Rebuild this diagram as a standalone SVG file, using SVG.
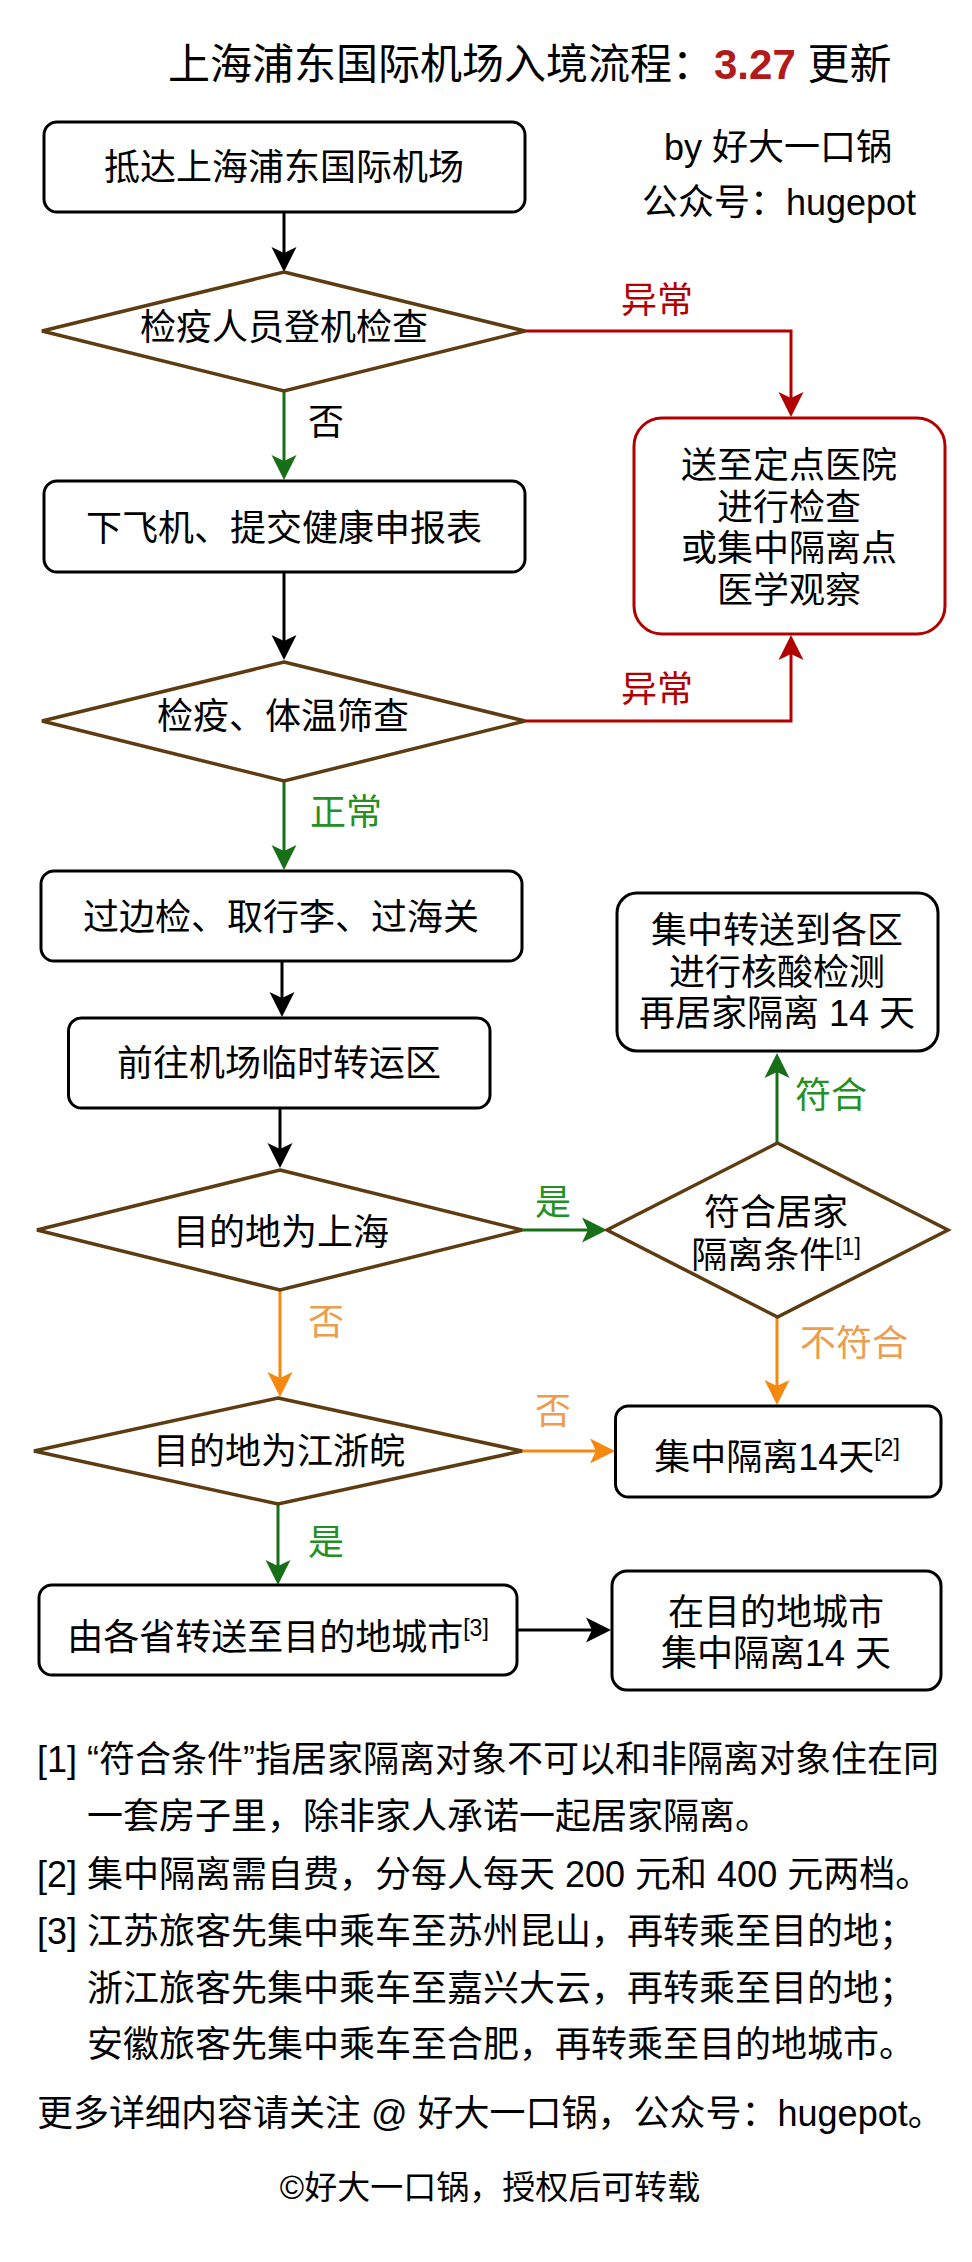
<svg xmlns="http://www.w3.org/2000/svg" width="972" height="2262" viewBox="0 0 972 2262">
<style>
text{font-family:"Liberation Sans","Noto Sans CJK SC",sans-serif;font-size:36px;fill:#000}
.c{text-anchor:middle}
.box{fill:#fff;stroke:#000;stroke-width:3}
.rbox{fill:#fff;stroke:#b20000;stroke-width:3}
.dia{fill:#fff;stroke:#5e3c12;stroke-width:3.5}
.ln{fill:none;stroke-width:3}
.k{stroke:#000}.g{stroke:#176f17}.r{stroke:#b20000}.o{stroke:#f5890f}
.lg{fill:#249024}.lr{fill:#b20000}.lo{fill:#eb9d50}
.sup{font-size:23px}
</style>
<defs>
<marker id="ak" markerUnits="userSpaceOnUse" markerWidth="26" markerHeight="26" refX="15" refY="12.5" orient="auto" overflow="visible"><path d="M0,0 L25,12.5 L0,25 L6,12.5 Z" fill="#000"/></marker>
<marker id="ag" markerUnits="userSpaceOnUse" markerWidth="26" markerHeight="26" refX="15" refY="12.5" orient="auto" overflow="visible"><path d="M0,0 L25,12.5 L0,25 L6,12.5 Z" fill="#176f17"/></marker>
<marker id="ar" markerUnits="userSpaceOnUse" markerWidth="26" markerHeight="26" refX="15" refY="12.5" orient="auto" overflow="visible"><path d="M0,0 L25,12.5 L0,25 L6,12.5 Z" fill="#b20000"/></marker>
<marker id="ao" markerUnits="userSpaceOnUse" markerWidth="26" markerHeight="26" refX="15" refY="12.5" orient="auto" overflow="visible"><path d="M0,0 L25,12.5 L0,25 L6,12.5 Z" fill="#f5890f"/></marker>
</defs>
<rect width="972" height="2262" fill="#fff"/>

<g id="title">
<text x="168" y="79" style="font-size:42px">上海浦东国际机场入境流程：<tspan style="font-weight:bold;fill:#b21a1a">3.27</tspan> 更新</text>
</g>
<g id="byline">
<text class="c" x="778" y="160">by 好大一口锅</text>
<text class="c" x="779" y="215">公众号：hugepot</text>
</g>

<g id="connectors">
<path class="ln k" d="M284,212 V262" marker-end="url(#ak)"/>
<path class="ln r" d="M525,331 H791 V407" marker-end="url(#ar)"/>
<path class="ln g" d="M284,391 V470" marker-end="url(#ag)"/>
<path class="ln k" d="M284,572 V650" marker-end="url(#ak)"/>
<path class="ln r" d="M525,721 H791 V645" marker-end="url(#ar)"/>
<path class="ln g" d="M284,781 V860" marker-end="url(#ag)"/>
<path class="ln k" d="M282,961 V1007" marker-end="url(#ak)"/>
<path class="ln k" d="M280,1108 V1158" marker-end="url(#ak)"/>
<path class="ln g" d="M522,1230 H597" marker-end="url(#ag)"/>
<path class="ln g" d="M777,1143 V1063" marker-end="url(#ag)"/>
<path class="ln o" d="M280,1290 V1387" marker-end="url(#ao)"/>
<path class="ln o" d="M777,1317 V1395" marker-end="url(#ao)"/>
<path class="ln o" d="M522,1451 H605" marker-end="url(#ao)"/>
<path class="ln g" d="M278,1504 V1575" marker-end="url(#ag)"/>
<path class="ln k" d="M517,1630 H601" marker-end="url(#ak)"/>
<text class="c lr" x="657" y="313">异常</text>
<text class="c" x="326" y="435">否</text>
<text class="c lr" x="657" y="702">异常</text>
<text class="c lg" x="346" y="825">正常</text>
<text class="c lg" x="553" y="1215">是</text>
<text class="c lg" x="831" y="1108">符合</text>
<text class="c lo" x="326" y="1335">否</text>
<text class="c lo" x="854" y="1356">不符合</text>
<text class="c lo" x="553" y="1424">否</text>
<text class="c lg" x="326" y="1555">是</text>
</g>

<g id="n1"><rect class="box" x="44" y="122" width="481" height="90" rx="13"/><text class="c" x="284" y="180">抵达上海浦东国际机场</text></g>
<g id="n2"><polygon class="dia" points="284,272 525,331 284,391 42,331"/><text class="c" x="284" y="340">检疫人员登机检查</text></g>
<g id="n3"><rect class="rbox" x="634" y="418" width="311" height="216" rx="28"/>
<text class="c" x="789" y="478">送至定点医院</text><text class="c" x="789" y="520">进行检查</text><text class="c" x="789" y="561">或集中隔离点</text><text class="c" x="789" y="603">医学观察</text></g>
<g id="n4"><rect class="box" x="44" y="481" width="481" height="91" rx="13"/><text class="c" x="284" y="541">下飞机、提交健康申报表</text></g>
<g id="n5"><polygon class="dia" points="284,662 525,721 284,781 42,721"/><text class="c" x="283" y="729">检疫、体温筛查</text></g>
<g id="n6"><rect class="box" x="41" y="871" width="481" height="90" rx="13"/><text class="c" x="281" y="930">过边检、取行李、过海关</text></g>
<g id="n7"><rect class="box" x="68.5" y="1018" width="421.5" height="90" rx="13"/><text class="c" x="279" y="1076">前往机场临时转运区</text></g>
<g id="n8"><polygon class="dia" points="280,1170 522,1230 280,1290 37,1230"/><text class="c" x="281" y="1245">目的地为上海</text></g>
<g id="n9"><polygon class="dia" points="777.5,1143 948,1230 777.5,1317 607,1230"/>
<text class="c" x="776" y="1225">符合居家</text><text class="c" x="776" y="1268">隔离条件<tspan class="sup" dy="-13">[1]</tspan></text></g>
<g id="n10"><rect class="box" x="617" y="893" width="321" height="158" rx="20"/>
<text class="c" x="777" y="943">集中转送到各区</text><text class="c" x="777" y="985">进行核酸检测</text><text class="c" x="777" y="1026">再居家隔离 14 天</text></g>
<g id="n11"><polygon class="dia" points="278,1398 522,1451 278,1504 34,1451"/><text class="c" x="279" y="1464">目的地为江浙皖</text></g>
<g id="n12"><rect class="box" x="615.5" y="1406" width="325.5" height="91" rx="13"/><text class="c" x="777" y="1470">集中隔离14天<tspan class="sup" dy="-14">[2]</tspan></text></g>
<g id="n13"><rect class="box" x="39" y="1585" width="478" height="90" rx="13"/><text class="c" x="278" y="1650">由各省转送至目的地城市<tspan class="sup" dy="-14">[3]</tspan></text></g>
<g id="n14"><rect class="box" x="612" y="1571" width="329" height="119" rx="15"/>
<text class="c" x="776" y="1625">在目的地城市</text><text class="c" x="776" y="1666">集中隔离14 天</text></g>

<g id="notes">
<text x="37" y="1772">[1] “符合条件”指居家隔离对象不可以和非隔离对象住在同</text>
<text x="87" y="1829">一套房子里，除非家人承诺一起居家隔离。</text>
<text x="37" y="1887">[2] 集中隔离需自费，分每人每天 200 元和 400 元两档。</text>
<text x="37" y="1944">[3] 江苏旅客先集中乘车至苏州昆山，再转乘至目的地；</text>
<text x="87" y="2001">浙江旅客先集中乘车至嘉兴大云，再转乘至目的地；</text>
<text x="87" y="2057">安徽旅客先集中乘车至合肥，再转乘至目的地城市。</text>
<text x="37" y="2126">更多详细内容请关注 @ 好大一口锅，公众号：hugepot。</text>
<text class="c" x="490" y="2199" style="font-size:33px">©好大一口锅，授权后可转载</text>
</g>
</svg>
